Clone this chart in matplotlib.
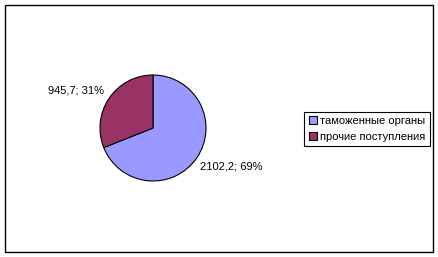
import matplotlib
matplotlib.use("Agg")
import matplotlib.pyplot as plt
from matplotlib.patches import Rectangle

# ── data ──────────────────────────────────────────────────────────────────────
categories = ["таможенные органы", "прочие поступления"]
values     = [2102.2, 945.7]
colors     = ["#9999FF", "#993366"]

plt.rcParams["font.family"] = ["Liberation Sans", "DejaVu Sans"]

W, H = 439, 257
fig = plt.figure(figsize=(W / 100, H / 100), dpi=100)

# outer chart border
fig.patches.append(Rectangle((5 / W, 5 / H), 428 / W, 247 / H, transform=fig.transFigure,
                             fill=False, ec="black", lw=1.0))

# pie: center (153,128) px, radius 53 px
cx, cy, r = 153, 128, 53
ax = fig.add_axes([(cx - r) / W, (H - cy - r) / H, 2 * r / W, 2 * r / H])
wedges, _ = ax.pie(values, colors=colors, startangle=90, counterclock=False,
                   wedgeprops=dict(edgecolor="black", linewidth=0.8))
ax.set_xlim(-1, 1)
ax.set_ylim(-1, 1)

total = sum(values)
def lab(v):
    return f"{v:.1f}".replace(".", ",") + f"; {round(100 * v / total)}%"

ax.text(0.89, -0.72, lab(values[0]), ha="left", va="center", fontsize=8, clip_on=False)
ax.text(-0.92, 0.70, lab(values[1]), ha="right", va="center", fontsize=8, clip_on=False)

leg = fig.legend(wedges, categories, loc="center",
                 bbox_to_anchor=(367 / W, (H - 129) / H), fontsize=8,
                 fancybox=False, framealpha=1, edgecolor="black",
                 handlelength=0.7, handleheight=0.7, handletextpad=0.3,
                 borderpad=0.4, labelspacing=0.5, borderaxespad=0)
leg.get_frame().set_linewidth(0.8)

fig.savefig("out.png", dpi=100)
